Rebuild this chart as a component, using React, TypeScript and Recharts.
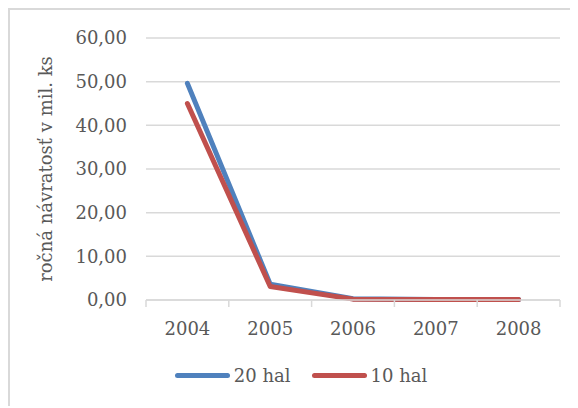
import React from "react";
import { LineChart, Line, XAxis, YAxis, CartesianGrid, Legend } from "recharts";

const years = ["2004", "2005", "2006", "2007", "2008"];
const hal20 = [49.6, 3.6, 0.3, 0.1, 0.1];
const hal10 = [45.0, 3.1, 0.2, 0.1, 0.1];
const yTicks = [0, 10, 20, 30, 40, 50, 60];

const seriesNames = { a: "20 hal", b: "10 hal" };
const BLUE = "#4f81bd";
const RED = "#c0504d";
const GRID = "#d9d9d9";
const TEXT = "#595959";
const FONT = "'DejaVu Serif', serif";

// x positions sit in the middle of each category band (band edges carry the tick marks)
const data = years.map((y, i) => ({ x: i + 0.5, year: y, a: hal20[i], b: hal10[i] }));
const xTicks = Array.from({ length: years.length * 2 + 1 }, (_, i) => i / 2);

const fmt = (v: number) => v.toFixed(2).replace(".", ",");

const XTick = ({ x, y, payload }: any) => {
  const v = payload.value;
  if (Number.isInteger(v)) {
    return <line x1={x} y1={y} x2={x} y2={y + 7} stroke={GRID} strokeWidth={1.5} />;
  }
  return (
    <text x={x} y={y + 35} textAnchor="middle" fill={TEXT} fontSize={18} fontFamily={FONT}>
      {years[Math.floor(v)]}
    </text>
  );
};

const YLabel = ({ viewBox }: any) => {
  const cx = viewBox.x + 35;
  const cy = viewBox.y + viewBox.height / 2;
  return (
    <text
      x={cx}
      y={cy}
      transform={`rotate(-90 ${cx} ${cy})`}
      textAnchor="middle"
      dominantBaseline="central"
      fill={TEXT}
      fontSize={18}
      fontFamily={FONT}
    >
      ročná návratosť v mil. ks
    </text>
  );
};

const LegendContent = () => (
  <div style={{ display: "flex", justifyContent: "center", paddingLeft: 16, fontFamily: FONT, fontSize: 18, color: TEXT }}>
    {[
      { name: seriesNames.a, color: BLUE },
      { name: seriesNames.b, color: RED },
    ].map((s, i) => (
      <div key={i} style={{ display: "flex", alignItems: "center", marginLeft: i ? 21 : 0 }}>
        <span style={{ width: 55, height: 5, borderRadius: 3, background: s.color, marginRight: 4 }} />
        <span>{s.name}</span>
      </div>
    ))}
  </div>
);

export default function App() {
  return (
    <div
      style={{
        width: 566,
        height: 396,
        borderTop: `2px solid ${GRID}`,
        borderLeft: `2px solid ${GRID}`,
        background: "#fff",
      }}
    >
      <LineChart width={566} height={396} data={data} margin={{ top: 28, right: 16, bottom: 76, left: 0 }}>
        <CartesianGrid vertical={false} stroke={GRID} strokeWidth={1.5} />
        <XAxis
          dataKey="x"
          type="number"
          domain={[0, years.length]}
          ticks={xTicks}
          interval={0}
          height={30}
          tickLine={false}
          tickSize={0}
          tickMargin={0}
          axisLine={{ stroke: GRID, strokeWidth: 1.5 }}
          tick={<XTick />}
        />
        <YAxis
          domain={[0, 60]}
          ticks={yTicks}
          width={136}
          axisLine={false}
          tickLine={false}
          tickMargin={13}
          tickFormatter={fmt}
          tick={{ fill: TEXT, fontSize: 18, fontFamily: FONT }}
          label={<YLabel />}
        />
        <Legend
          verticalAlign="middle"
          align="center"
          content={<LegendContent />}
          wrapperStyle={{ top: 355, left: 0, width: 566 }}
        />
        <Line
          dataKey="a"
          name={seriesNames.a}
          stroke={BLUE}
          strokeWidth={5}
          strokeLinecap="round"
          strokeLinejoin="round"
          dot={false}
          isAnimationActive={false}
        />
        <Line
          dataKey="b"
          name={seriesNames.b}
          stroke={RED}
          strokeWidth={5}
          strokeLinecap="round"
          strokeLinejoin="round"
          dot={false}
          isAnimationActive={false}
        />
      </LineChart>
    </div>
  );
}
